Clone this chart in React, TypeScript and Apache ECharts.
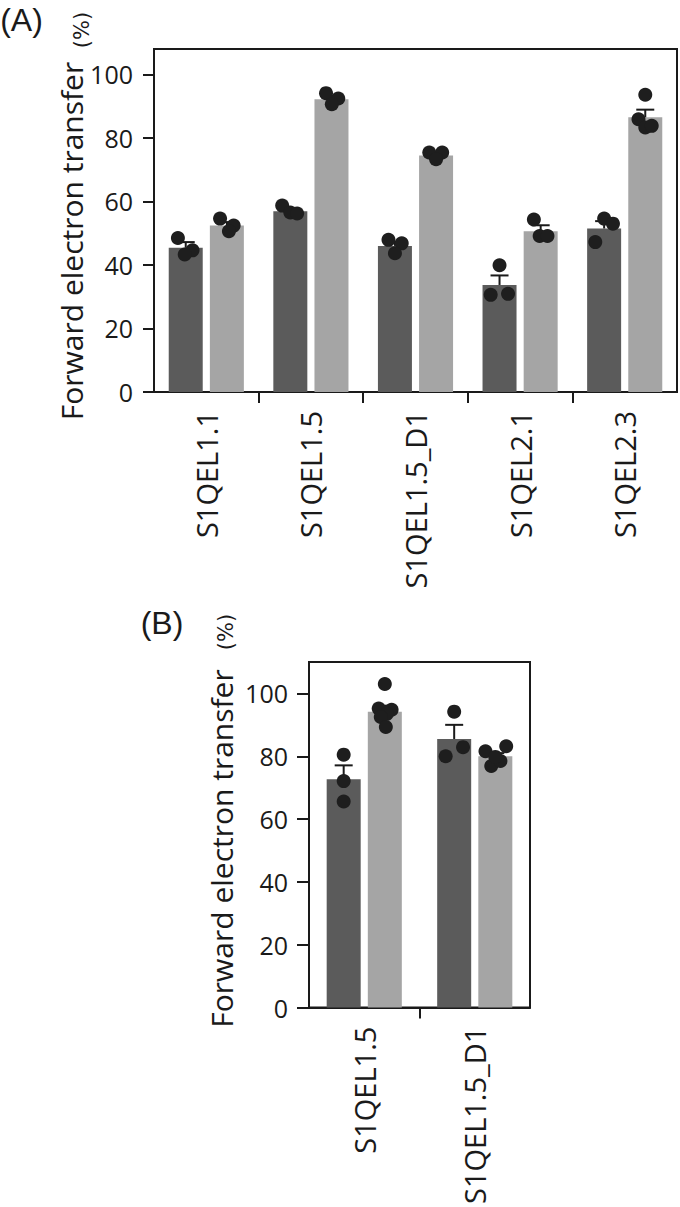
import React, { useEffect, useRef } from "react";
import * as echarts from "echarts";

// ---------- data ----------
const CATS_A = ["S1QEL1.1", "S1QEL1.5", "S1QEL1.5_D1", "S1QEL2.1", "S1QEL2.3"];
const MEAN_A_DARK = [45.4, 56.9, 46.0, 33.7, 51.5];
const MEAN_A_LIGHT = [52.4, 92.2, 74.5, 50.6, 86.5];
const SEM_A_DARK = [1.8, 0.9, 1.3, 3.0, 2.3];
const SEM_A_LIGHT = [1.1, 1.0, 0.8, 1.9, 2.4];
const PTS_A_DARK = [
  [48.5, 44.6, 43.3],
  [58.7, 56.5, 56.2],
  [47.9, 46.8, 43.7],
  [39.9, 30.6, 30.9],
  [47.2, 54.6, 53.0],
];
const JIT_A_DARK = [
  [-0.23, 0.2, -0.03],
  [-0.24, 0, 0.2],
  [-0.19, 0.2, 0],
  [0, -0.26, 0.25],
  [-0.26, 0, 0.26],
];
const PTS_A_LIGHT = [
  [54.6, 52.4, 50.6],
  [94.1, 92.4, 90.6],
  [75.4, 75.4, 73.3],
  [54.3, 49.1, 49.1],
  [93.6, 85.9, 83.3, 83.8],
];
const JIT_A_LIGHT = [
  [-0.2, 0.2, 0.06],
  [-0.16, 0.2, 0.01],
  [-0.2, 0.18, 0],
  [-0.2, -0.03, 0.2],
  [0, -0.2, 0, 0.19],
];

const CATS_B = ["S1QEL1.5", "S1QEL1.5_D1"];
const MEAN_B_DARK = [72.7, 85.5];
const MEAN_B_LIGHT = [94.2, 80.0];
const SEM_B_DARK = [4.4, 4.5];
const SEM_B_LIGHT = [1.9, 1.0];
const PTS_B_DARK = [
  [80.5, 72.1, 65.6],
  [94.2, 80.0, 82.9],
];
const JIT_B_DARK = [
  [0, 0, 0],
  [0, -0.25, 0.26],
];
const PTS_B_LIGHT = [
  [103.0, 95.2, 94.8, 93.5, 92.5, 89.3],
  [81.6, 83.2, 76.9, 78.5, 79.8],
];
const JIT_B_LIGHT = [
  [0, -0.18, 0.2, 0.06, -0.12, 0.03],
  [-0.29, 0.32, -0.12, 0.15, 0],
];

const Y_TICKS = [0, 20, 40, 60, 80, 100];
const Y_TITLE = "Forward electron transfer";
const Y_UNIT = "(%)";

// ---------- styles ----------
const DARK = "#5b5b5b";
const LIGHT = "#a5a5a5";
const DOT = "#1e1e1e";
const INK = "#1a1a1a";
const BAR_W = 34;
const GAP_RATIO = 0.21;
const OFFSET = (BAR_W * (1 + GAP_RATIO)) / 2;
const LABEL_FONT = "'Open Sans', 'DejaVu Sans', sans-serif";
const TICK_FONT = "'Open Sans', sans-serif";

function dotData(pts: number[][], jit: number[][], side: number) {
  const out: number[][] = [];
  pts.forEach((arr, i) => arr.forEach((v, k) => out.push([i, v, side, jit[i][k]])));
  return out;
}
function errData(mean: number[], sem: number[], side: number) {
  return mean.map((m, i) => [i, m, m + sem[i], side]);
}

const renderDot = (params: any, api: any) => {
  const p = api.coord([api.value(0), api.value(1)]);
  const x = p[0] + api.value(2) * OFFSET + api.value(3) * BAR_W;
  return { type: "circle", shape: { cx: x, cy: p[1], r: 7 }, style: { fill: DOT } };
};
const renderErr = (params: any, api: any) => {
  const p0 = api.coord([api.value(0), api.value(1)]);
  const p1 = api.coord([api.value(0), api.value(2)]);
  const x = p0[0] + api.value(3) * OFFSET;
  const st = { stroke: INK, lineWidth: 2 };
  return {
    type: "group",
    children: [
      { type: "line", shape: { x1: x, y1: p0[1], x2: x, y2: p1[1] }, style: st },
      { type: "line", shape: { x1: x - 9, y1: p1[1], x2: x + 9, y2: p1[1] }, style: st },
    ],
  };
};

function panelAxes(gi: number, cats: string[], ymax: number, tickLen: number) {
  const catAxis = {
    type: "category",
    gridIndex: gi,
    data: cats,
    axisLine: { show: true, onZero: false, lineStyle: { color: INK, width: 2 } },
    axisTick: { show: false },
    splitLine: { show: false },
    axisLabel: {
      rotate: 90,
      fontSize: 29,
      fontFamily: LABEL_FONT,
      color: INK,
      margin: 19,
      interval: 0,
    },
  };
  const tickAxis = {
    type: "value",
    gridIndex: gi,
    position: "bottom",
    min: -0.5,
    max: cats.length - 0.5,
    axisLine: { show: false, onZero: false },
    axisLabel: { show: false },
    splitLine: { show: false },
    axisTick: {
      show: true,
      length: 11,
      lineStyle: { color: INK, width: 2 },
      customValues: cats.slice(1).map((_, i) => i + 0.5),
    },
  };
  const yAxis = {
    type: "value",
    gridIndex: gi,
    position: "left",
    min: 0,
    max: ymax,
    interval: 20,
    axisLine: { show: true, onZero: false, lineStyle: { color: INK, width: 2 } },
    axisTick: {
      show: true,
      length: tickLen,
      lineStyle: { color: INK, width: 2 },
      customValues: Y_TICKS,
    },
    axisLabel: {
      customValues: Y_TICKS,
      fontSize: 25,
      fontFamily: TICK_FONT,
      color: INK,
      margin: 21,
    },
    splitLine: { show: false },
  };
  return { catAxis, tickAxis, yAxis };
}

function panelSeries(
  xi: number,
  yi: number,
  dark: number[],
  light: number[],
  semD: number[],
  semL: number[],
  ptsD: number[][],
  jitD: number[][],
  ptsL: number[][],
  jitL: number[][]
) {
  return [
    {
      type: "bar",
      xAxisIndex: xi,
      yAxisIndex: yi,
      data: dark,
      barWidth: BAR_W,
      barGap: `${GAP_RATIO * 100}%`,
      itemStyle: { color: DARK },
    },
    {
      type: "bar",
      xAxisIndex: xi,
      yAxisIndex: yi,
      data: light,
      barWidth: BAR_W,
      barGap: `${GAP_RATIO * 100}%`,
      itemStyle: { color: LIGHT },
    },
    {
      type: "custom",
      xAxisIndex: xi,
      yAxisIndex: yi,
      renderItem: renderErr,
      encode: { x: 0, y: [1, 2] },
      data: [...errData(dark, semD, -1), ...errData(light, semL, 1)],
      z: 3,
    },
    {
      type: "custom",
      xAxisIndex: xi,
      yAxisIndex: yi,
      renderItem: renderDot,
      encode: { x: 0, y: 1 },
      data: [...dotData(ptsD, jitD, -1), ...dotData(ptsL, jitL, 1)],
      z: 4,
    },
  ];
}

function titleGraphics(cx: number, cy: number, ux: number, uy: number) {
  return [
    {
      type: "text",
      x: cx,
      y: cy,
      rotation: Math.PI / 2,
      style: {
        text: Y_TITLE,
        fontSize: 30,
        fontFamily: LABEL_FONT,
        fill: INK,
        align: "center",
        verticalAlign: "middle",
      },
    },
    {
      type: "text",
      x: ux,
      y: uy,
      rotation: Math.PI / 2,
      style: {
        text: Y_UNIT,
        fontSize: 21,
        fontFamily: "'DejaVu Sans', sans-serif",
        fill: INK,
        align: "center",
        verticalAlign: "middle",
      },
    },
  ];
}

export default function App() {
  const ref = useRef<HTMLDivElement>(null);
  useEffect(() => {
    if (!ref.current) return;
    const chart = echarts.init(ref.current, undefined, { renderer: "svg" });
    const a = panelAxes(0, CATS_A, 108, 11);
    const b = panelAxes(1, CATS_B, 110, 12);
    chart.setOption({
      animation: false,
      backgroundColor: "#ffffff",
      grid: [
        { left: 154, top: 49, width: 523, height: 343, show: true, borderColor: INK, borderWidth: 2 },
        { left: 309, top: 662, width: 221, height: 350, show: true, borderColor: INK, borderWidth: 2 },
      ],
      xAxis: [a.catAxis, a.tickAxis, b.catAxis, b.tickAxis],
      yAxis: [a.yAxis, b.yAxis],
      series: [
        ...panelSeries(0, 0, MEAN_A_DARK, MEAN_A_LIGHT, SEM_A_DARK, SEM_A_LIGHT, PTS_A_DARK, JIT_A_DARK, PTS_A_LIGHT, JIT_A_LIGHT),
        ...panelSeries(2, 1, MEAN_B_DARK, MEAN_B_LIGHT, SEM_B_DARK, SEM_B_LIGHT, PTS_B_DARK, JIT_B_DARK, PTS_B_LIGHT, JIT_B_LIGHT),
      ],
      graphic: [
        {
          type: "text",
          x: 21.5,
          y: 20,
          style: {
            text: "(A)",
            fontSize: 32,
            fontFamily: "'Liberation Sans', sans-serif",
            fill: INK,
            align: "center",
            verticalAlign: "middle",
          },
        },
        {
          type: "text",
          x: 162,
          y: 623,
          style: {
            text: "(B)",
            fontSize: 32,
            fontFamily: "'Liberation Sans', sans-serif",
            fill: INK,
            align: "center",
            verticalAlign: "middle",
          },
        },
        ...titleGraphics(71.5, 241, 81.5, 30),
        ...titleGraphics(221, 848.5, 226, 632),
      ],
    });
    return () => chart.dispose();
  }, []);
  return (
    <div
      ref={ref}
      style={{ position: "absolute", left: 0, top: 0, width: 680, height: 1207, background: "#fff" }}
    />
  );
}
